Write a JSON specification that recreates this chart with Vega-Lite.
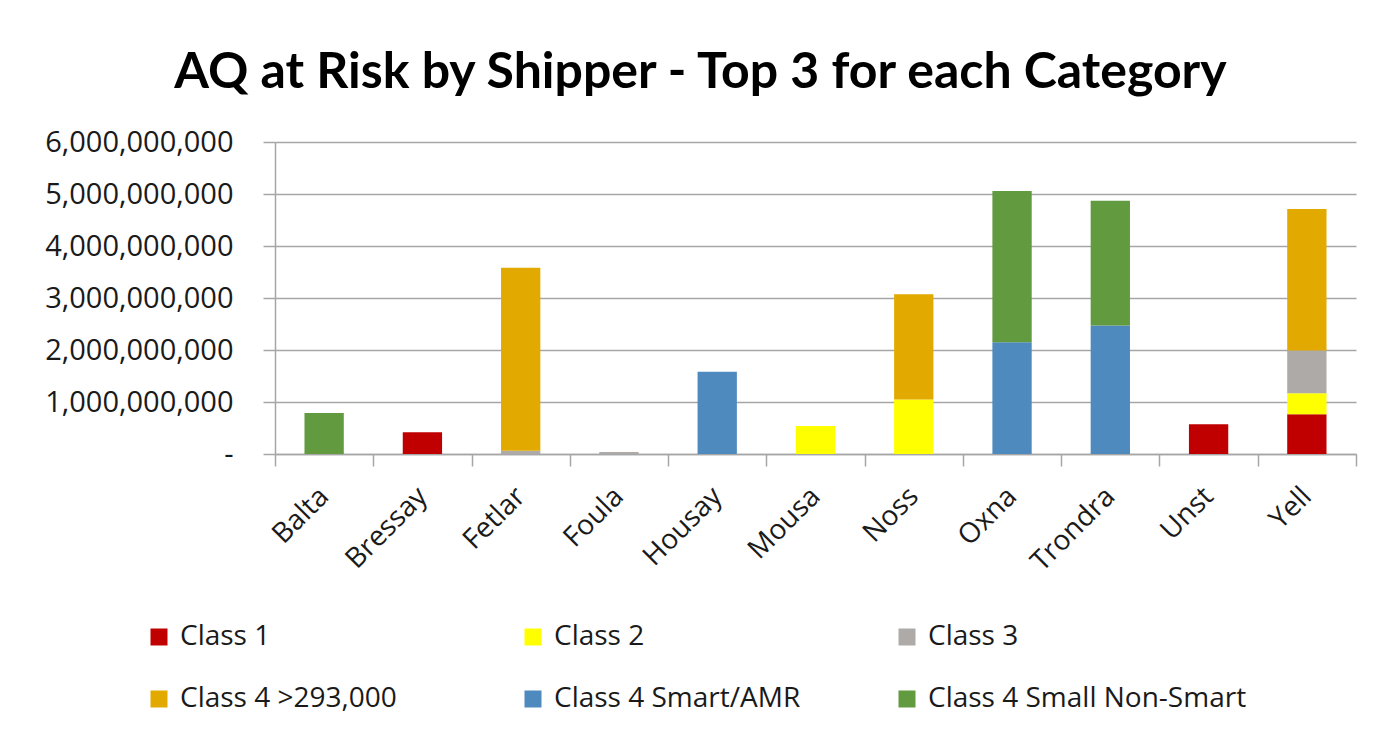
{
  "$schema": "https://vega.github.io/schema/vega-lite/v6.json",
  "width": 1081,
  "height": 312,
  "autosize": {"type": "none"},
  "padding": {"left": 275, "top": 142, "right": 21, "bottom": 288},
  "background": "white",
  "config": {"view": {"stroke": null}, "font": "Open Sans"},
  "title": {
    "text": "AQ at Risk by Shipper - Top 3 for each Category",
    "font": "Lato",
    "fontSize": 50,
    "fontWeight": "bold",
    "color": "#000000",
    "frame": "group",
    "anchor": "middle",
    "dx": -115,
    "offset": 30
  },
  "data": {
    "values": [
      {"shipper": "Balta", "cls": "Class 4 Small Non-Smart", "rank": 6, "aq": 790000000},
      {"shipper": "Bressay", "cls": "Class 1", "rank": 1, "aq": 420000000},
      {"shipper": "Fetlar", "cls": "Class 3", "rank": 3, "aq": 64000000},
      {"shipper": "Fetlar", "cls": "Class 4 >293,000", "rank": 4, "aq": 3520000000},
      {"shipper": "Foula", "cls": "Class 3", "rank": 3, "aq": 40000000},
      {"shipper": "Housay", "cls": "Class 4 Smart/AMR", "rank": 5, "aq": 1580000000},
      {"shipper": "Mousa", "cls": "Class 2", "rank": 2, "aq": 540000000},
      {"shipper": "Noss", "cls": "Class 2", "rank": 2, "aq": 1050000000},
      {"shipper": "Noss", "cls": "Class 4 >293,000", "rank": 4, "aq": 2020000000},
      {"shipper": "Oxna", "cls": "Class 4 Smart/AMR", "rank": 5, "aq": 2150000000},
      {"shipper": "Oxna", "cls": "Class 4 Small Non-Smart", "rank": 6, "aq": 2910000000},
      {"shipper": "Trondra", "cls": "Class 4 Smart/AMR", "rank": 5, "aq": 2470000000},
      {"shipper": "Trondra", "cls": "Class 4 Small Non-Smart", "rank": 6, "aq": 2400000000},
      {"shipper": "Unst", "cls": "Class 1", "rank": 1, "aq": 570000000},
      {"shipper": "Yell", "cls": "Class 1", "rank": 1, "aq": 765000000},
      {"shipper": "Yell", "cls": "Class 2", "rank": 2, "aq": 405000000},
      {"shipper": "Yell", "cls": "Class 3", "rank": 3, "aq": 820000000},
      {"shipper": "Yell", "cls": "Class 4 >293,000", "rank": 4, "aq": 2720000000}
    ]
  },
  "mark": {"type": "bar", "width": {"band": 0.4}},
  "encoding": {
    "x": {
      "field": "shipper",
      "type": "nominal",
      "sort": null,
      "scale": {"paddingInner": 0, "paddingOuter": 0},
      "axis": {
        "title": null,
        "labelAngle": -45,
        "labelAlign": "right",
        "labelBaseline": "middle",
        "labelFontSize": 28,
        "labelColor": "#1a1a1a",
        "labelPadding": 26,
        "domainColor": "#A6A6A6",
        "domainWidth": 1.5,
        "tickColor": "#A6A6A6",
        "tickWidth": 1.5,
        "tickSize": 12,
        "tickBand": "extent",
        "grid": false
      }
    },
    "y": {
      "field": "aq",
      "type": "quantitative",
      "stack": "zero",
      "scale": {"domain": [0, 6000000000], "nice": false},
      "axis": {
        "title": null,
        "values": [0, 1000000000, 2000000000, 3000000000, 4000000000, 5000000000, 6000000000],
        "labelExpr": "datum.value === 0 ? '-' : format(datum.value, ',')",
        "labelFontSize": 29,
        "labelLimit": 400,
        "labelColor": "#1a1a1a",
        "labelPadding": 30,
        "domainColor": "#A6A6A6",
        "domainWidth": 1.5,
        "tickColor": "#A6A6A6",
        "tickWidth": 1.5,
        "tickSize": 12,
        "gridColor": "#A6A6A6",
        "gridWidth": 1.5
      }
    },
    "order": {"field": "rank", "type": "quantitative", "sort": "ascending"},
    "color": {
      "field": "cls",
      "type": "nominal",
      "sort": ["Class 1", "Class 2", "Class 3", "Class 4 >293,000", "Class 4 Smart/AMR", "Class 4 Small Non-Smart"],
      "scale": {
        "domain": ["Class 1", "Class 2", "Class 3", "Class 4 >293,000", "Class 4 Smart/AMR", "Class 4 Small Non-Smart"],
        "range": ["#C00000", "#FFFF00", "#ADAAA8", "#E2AA00", "#4F8ABE", "#629A3F"]
      },
      "legend": {
        "title": null,
        "orient": "none",
        "legendX": -130,
        "legendY": 481,
        "direction": "horizontal",
        "columns": 3,
        "gridAlign": "all",
        "columnPadding": 20,
        "rowPadding": 34,
        "symbolType": "square",
        "symbolSize": 289,
        "symbolStrokeWidth": 0,
        "labelFontSize": 28,
        "labelColor": "#1a1a1a",
        "labelOffset": 7,
        "labelLimit": 500
      }
    }
  }
}
